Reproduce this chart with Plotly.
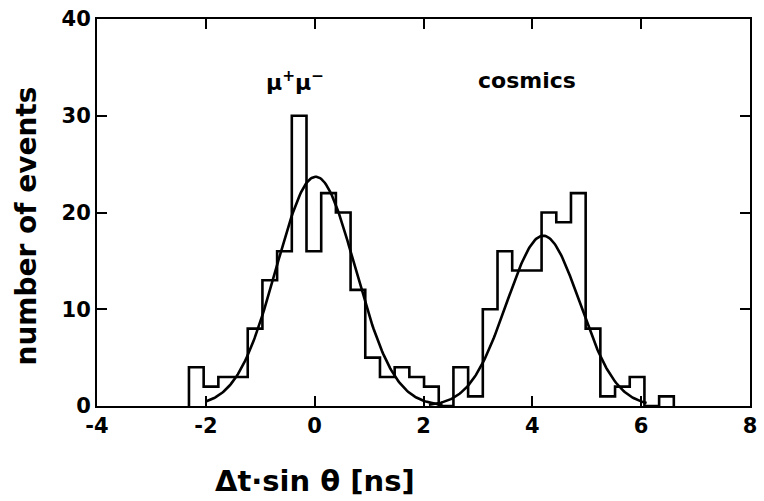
import numpy as np
import plotly.graph_objects as go

# bin edges (ns)
bin_edges = [-2.31, -2.04, -1.77, -1.50, -1.23, -0.96, -0.69, -0.42, -0.15, 0.12,
             0.39, 0.66, 0.93, 1.20, 1.47, 1.74, 2.01, 2.28, 2.55, 2.82,
             3.09, 3.36, 3.63, 3.90, 4.17, 4.44, 4.71, 4.98, 5.25, 5.52,
             5.79, 6.06, 6.33, 6.60]
# number of events per bin
counts = [4, 2, 3, 3, 8, 13, 16, 30, 16, 22,
          20, 12, 5, 3, 4, 3, 2, 0, 4, 1,
          10, 16, 14, 14, 20, 19, 22, 8, 1, 2,
          3, 0, 1]

# Gaussian fit parameters (amplitude, mean, sigma, drawn range)
mumu_fit = dict(amp=23.7, mean=0.02, sigma=0.72, lo=-2.0, hi=2.35)
cosmic_fit = dict(amp=17.6, mean=4.2, sigma=0.67, lo=2.1, hi=6.1)

x_ticks = [-4, -2, 0, 2, 4, 6, 8]
x_ticktext = ["-4", "-2", "0", "2", "4", "6", "8"]
y_ticks = [0, 10, 20, 30, 40]

FONT = "DejaVu Sans"

fig = go.Figure()

hx = [bin_edges[0]] + bin_edges[:-1] + [bin_edges[-1]]
hy = [0] + counts + [0]
fig.add_trace(go.Scatter(x=hx, y=hy, mode="lines", line=dict(color="black", width=2.6, shape="hv"),
                         hoverinfo="skip", showlegend=False))

for p in (mumu_fit, cosmic_fit):
    xs = np.linspace(p["lo"], p["hi"], 200)
    ys = p["amp"] * np.exp(-0.5 * ((xs - p["mean"]) / p["sigma"]) ** 2)
    fig.add_trace(go.Scatter(x=xs, y=ys, mode="lines", line=dict(color="black", width=2.6),
                             hoverinfo="skip", showlegend=False))

fig.add_annotation(x=-0.36, y=33.6, xref="x", yref="y", text="μ<sup>+</sup>μ<sup>−</sup>",
                   showarrow=False, font=dict(family=FONT, size=22, color="black", weight="bold"))
fig.add_annotation(x=3.9, y=33.6, xref="x", yref="y", text="cosmics",
                   showarrow=False, font=dict(family=FONT, size=22, color="black", weight="bold"))

fig.add_annotation(x=0.0, y=-0.195, xref="x", yref="paper", text="Δt·sin θ [ns]",
                   showarrow=False, yanchor="middle",
                   font=dict(family=FONT, size=29, color="black", weight="bold"))

fig.add_annotation(x=-0.108, y=18.6, xref="paper", yref="y", text="number of events",
                   textangle=-90, showarrow=False, xanchor="center", yanchor="middle",
                   font=dict(family=FONT, size=28, color="black", weight="bold"))

fig.update_layout(
    width=764, height=501,
    margin=dict(l=97, r=7, t=13, b=95),
    paper_bgcolor="white", plot_bgcolor="white",
    font=dict(family=FONT, size=21, color="black"),
    xaxis=dict(range=[-4, 8], tickvals=x_ticks, ticktext=x_ticktext,
               ticks="inside", ticklen=10, tickwidth=2, tickcolor="black",
               showline=True, linewidth=2, linecolor="black", mirror="ticks",
               showgrid=False, zeroline=False,
               tickfont=dict(family=FONT, size=21, color="black", weight="bold")),
    yaxis=dict(range=[0, 40], tickvals=y_ticks,
               ticks="inside", ticklen=10, tickwidth=2, tickcolor="black",
               showline=True, linewidth=2, linecolor="black", mirror="ticks",
               showgrid=False, zeroline=False,
               tickfont=dict(family=FONT, size=21, color="black", weight="bold")),
)

fig.write_html("out.html")
